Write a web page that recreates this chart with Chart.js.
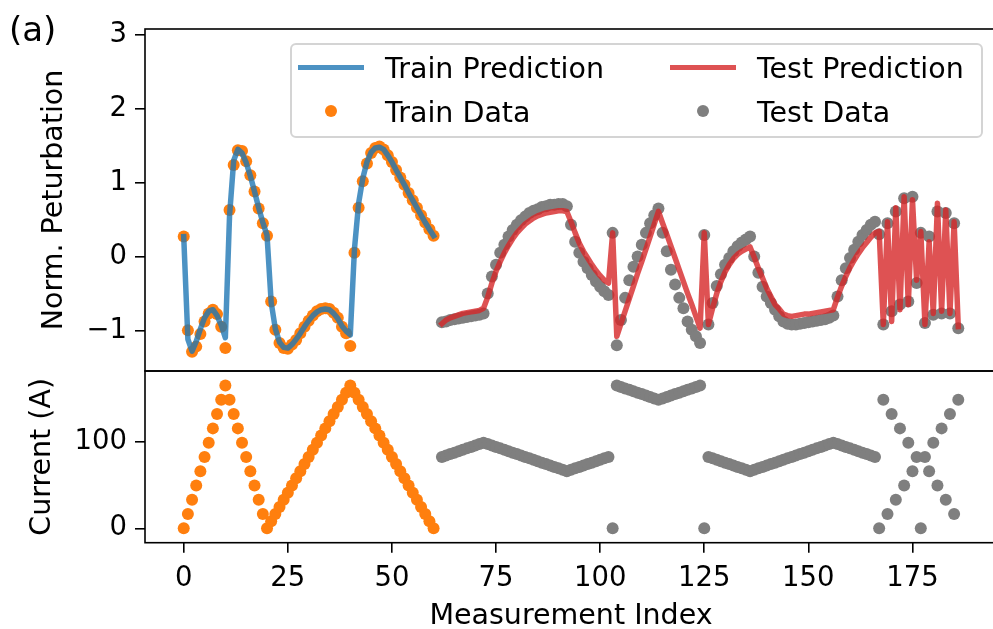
<!DOCTYPE html>
<html>
<head>
<meta charset="utf-8">
<script src="https://cdn.jsdelivr.net/npm/chart.js@4.4.1/dist/chart.umd.min.js"></script>
<style>
  html, body { margin: 0; padding: 0; background: #fff; overflow: hidden; }
  #wrap { position: relative; width: 993px; height: 629px; overflow: hidden; background: #fff;
          font-family: "DejaVu Sans", sans-serif; color: #000; }
  #wrap canvas { position: absolute; left: 0; top: 0; }
  .txt { position: absolute; white-space: nowrap; line-height: 1; }
  #panel { left: 9px; top: 12px; font-size: 34px; }
  #legend { position: absolute; left: 290px; top: 43px; width: 693px; height: 95px; box-sizing: border-box;
            border: 2px solid #d4d4d4; border-radius: 6px; background: rgba(255,255,255,0.8); }
  .lg-line { position: absolute; height: 5px; }
  .lg-dot { position: absolute; width: 12px; height: 12px; border-radius: 50%; }
  .lg-text { position: absolute; font-size: 28.5px; line-height: 1; white-space: nowrap; }
</style>
</head>
<body>
<div id="wrap">
  <canvas id="bottomChart" width="1010" height="629" style="width:1010px;height:629px"></canvas>
  <canvas id="topChart" width="1010" height="373" style="width:1010px;height:373px"></canvas>
  <div id="panel" class="txt">(a)</div>
  <div id="legend"></div>
</div>
<script>
// ---- tick positions ----
const xTicks = [0, 25, 50, 75, 100, 125, 150, 175];
const pertTicks = [-1, 0, 1, 2, 3];
const currentTicks = [0, 100];

// ---- measurement indices ----
const trainStart = 0, trainCount = 61;
const testStart = 62, testCount = 125;
const trainIndex = Array.from({ length: trainCount }, (_, i) => trainStart + i);
const testIndex = Array.from({ length: testCount }, (_, i) => testStart + i);

// ---- training set ----
const trainPert = [
  0.27, -1.00, -1.29, -1.22, -1.05, -0.88, -0.77, -0.72, -0.78, -0.95, -1.24,
  0.63, 1.24, 1.44, 1.43, 1.29, 1.10, 0.88, 0.65, 0.45, 0.28,
  -0.61, -0.99, -1.17, -1.24, -1.25, -1.19, -1.13, -1.04, -0.95, -0.87,
  -0.80, -0.74, -0.71, -0.70, -0.71, -0.76, -0.83, -0.95, -1.04, -1.21,
  0.05, 0.66, 1.02, 1.26, 1.40, 1.47, 1.49, 1.45, 1.37, 1.28,
  1.17, 1.07, 0.97, 0.86, 0.76, 0.66, 0.56, 0.46, 0.37, 0.28
];
const trainPred = [
  0.27, -1.12, -1.28, -1.15, -0.98, -0.83, -0.74, -0.72, -0.80, -0.93, -1.10,
  0.55, 1.30, 1.45, 1.40, 1.27, 1.09, 0.88, 0.66, 0.46, 0.29,
  -0.62, -0.98, -1.16, -1.23, -1.24, -1.19, -1.12, -1.04, -0.95, -0.87,
  -0.80, -0.75, -0.72, -0.71, -0.72, -0.77, -0.84, -0.94, -1.01, -1.06,
  0.10, 0.72, 1.06, 1.28, 1.41, 1.47, 1.48, 1.45, 1.37, 1.28,
  1.17, 1.07, 0.97, 0.86, 0.76, 0.66, 0.56, 0.46, 0.37, 0.28
];
const trainCurrent = [
  0, 16.5, 33, 49.5, 66, 82.5, 99, 115.5, 132, 148.5, 165,
  148.5, 132, 115.5, 99, 82.5, 66, 49.5, 33, 16.5, 0,
  8.25, 16.5, 24.75, 33, 41.25, 49.5, 57.75, 66, 74.25, 82.5,
  90.75, 99, 107.25, 115.5, 123.75, 132, 140.25, 148.5, 156.75, 165,
  156.75, 148.5, 140.25, 132, 123.75, 115.5, 107.25, 99, 90.75, 82.5,
  74.25, 66, 57.75, 49.5, 41.25, 33, 24.75, 16.5, 8.25, 0
];

// ---- test set ----
const testPert = [
  -0.89, -0.88, -0.86, -0.85, -0.84, -0.83, -0.82, -0.81, -0.80, -0.79, -0.77,
  -0.50, -0.27, -0.11, 0.05, 0.16, 0.27, 0.36, 0.43, 0.49, 0.54,
  0.59, 0.62, 0.64, 0.67, 0.68, 0.70, 0.70, 0.71, 0.71, 0.68,
  0.43, 0.20, 0.05, -0.07, -0.16, -0.25, -0.34, -0.41, -0.47, -0.52,
  0.32,
  -1.20, -0.86, -0.56, -0.32, -0.14, 0.00, 0.16, 0.32, 0.45, 0.56, 0.65,
  0.32, 0.07, -0.18, -0.38, -0.56, -0.70, -0.88, -0.99, -1.08, -1.17,
  0.29,
  -0.92, -0.63, -0.40, -0.24, -0.11, -0.02, 0.07, 0.14, 0.19, 0.23, 0.27,
  0.00, -0.22, -0.41, -0.54, -0.63, -0.72, -0.81, -0.88, -0.91, -0.92,
  -0.92, -0.91, -0.90, -0.89, -0.88, -0.87, -0.86, -0.85, -0.83, -0.80,
  -0.54, -0.32, -0.16, -0.02, 0.09, 0.20, 0.29, 0.36, 0.43, 0.47,
  0.30, -0.92, 0.45, -0.74, 0.61, -0.65, 0.79, -0.61, 0.81, -0.36,
  0.32, -0.90, 0.27, -0.79, 0.61, -0.77, 0.59, -0.77, 0.45, -0.97
];
const testPred = [
  -0.91, -0.86, -0.83, -0.81, -0.79, -0.77, -0.76, -0.75, -0.74, -0.73, -0.70,
  -0.55, -0.36, -0.20, -0.07, 0.05, 0.15, 0.24, 0.32, 0.38, 0.44,
  0.48, 0.52, 0.55, 0.57, 0.59, 0.60, 0.61, 0.62, 0.62, 0.61,
  0.47, 0.32, 0.18, 0.07, -0.02, -0.11, -0.19, -0.26, -0.32, -0.36,
  0.32,
  -1.08, -0.91, -0.74, -0.57, -0.40, -0.23, -0.07, 0.10, 0.27, 0.44, 0.61,
  0.45, 0.30, 0.14, -0.02, -0.18, -0.34, -0.50, -0.65, -0.81, -0.97,
  0.32,
  -0.92, -0.70, -0.50, -0.34, -0.21, -0.11, -0.03, 0.03, 0.07, 0.10, 0.13,
  -0.01, -0.16, -0.29, -0.43, -0.54, -0.65, -0.71, -0.78, -0.80, -0.81,
  -0.80, -0.79, -0.78, -0.78, -0.77, -0.76, -0.75, -0.74, -0.73, -0.72,
  -0.55, -0.40, -0.27, -0.15, -0.05, 0.04, 0.12, 0.19, 0.26, 0.32,
  0.34, -0.92, 0.47, -0.88, 0.66, -0.72, 0.81, -0.65, 0.77, -0.32,
  0.34, -0.92, 0.20, -0.77, 0.72, -0.74, 0.63, -0.77, 0.47, -0.95
];
const testCurrent = [
  82.5, 84.15, 85.8, 87.45, 89.1, 90.75, 92.4, 94.05, 95.7, 97.35, 99,
  97.35, 95.7, 94.05, 92.4, 90.75, 89.1, 87.45, 85.8, 84.15, 82.5,
  80.85, 79.2, 77.55, 75.9, 74.25, 72.6, 70.95, 69.3, 67.65, 66,
  67.65, 69.3, 70.95, 72.6, 74.25, 75.9, 77.55, 79.2, 80.85, 82.5,
  0,
  165, 163.35, 161.7, 160.05, 158.4, 156.75, 155.1, 153.45, 151.8, 150.15, 148.5,
  150.15, 151.8, 153.45, 155.1, 156.75, 158.4, 160.05, 161.7, 163.35, 165,
  0,
  82.5, 80.85, 79.2, 77.55, 75.9, 74.25, 72.6, 70.95, 69.3, 67.65, 66,
  67.65, 69.3, 70.95, 72.6, 74.25, 75.9, 77.55, 79.2, 80.85, 82.5,
  84.15, 85.8, 87.45, 89.1, 90.75, 92.4, 94.05, 95.7, 97.35, 99,
  97.35, 95.7, 94.05, 92.4, 90.75, 89.1, 87.45, 85.8, 84.15, 82.5,
  0, 148.5, 16.5, 132, 33, 115.5, 49.5, 99, 66, 82.5,
  0, 82.5, 66, 99, 49.5, 115.5, 33, 132, 16.5, 148.5
];

// ---- styling ----
const FONT = '"DejaVu Sans", sans-serif';
const C_TRAIN_LINE = 'rgba(31,119,180,0.8)';
const C_TRAIN_DOT = '#ff7f0e';
const C_TEST_LINE = 'rgba(214,39,40,0.8)';
const C_TEST_DOT = '#7f7f7f';
const R_TRAIN = 6, R_TEST = 6;
const LINE_W = 5.5;
const AXIS_W = 1.6;
const LEFT_W = 145;   // width reserved for the y axes
const X_MIN = -9.3, X_MAX = 195.3;

const pts = (xs, ys) => xs.map((x, i) => ({ x, y: ys[i] }));
const minus = v => String(v).replace('-', '\u2212');

const frame = {
  id: 'frame',
  afterDatasetsDraw(chart) {
    const { ctx, chartArea: a } = chart;
    ctx.save();
    ctx.strokeStyle = '#000';
    ctx.lineWidth = AXIS_W;
    ctx.strokeRect(a.left, a.top, a.right - a.left, a.bottom - a.top);
    ctx.restore();
  }
};

function yAxis(min, max, ticks, title, titlePad) {
  return {
    type: 'linear', min, max,
    afterBuildTicks: s => { s.ticks = ticks.map(v => ({ value: v })); },
    afterFit: s => { s.width = LEFT_W; s.paddingTop = 0; s.paddingBottom = 0; },
    ticks: { color: '#000', font: { family: FONT, size: 27.5 }, padding: 8, callback: minus },
    grid: { drawOnChartArea: false, drawTicks: true, tickLength: 10, color: '#000', lineWidth: AXIS_W },
    border: { display: false },
    title: { display: true, text: title, color: '#000', font: { family: FONT, size: 28.5 },
             padding: { top: titlePad, bottom: 0 } }
  };
}

Chart.defaults.animation = false;

// current panel (bottom, carries the shared x axis)
new Chart(document.getElementById('bottomChart'), {
  type: 'scatter',
  data: {
    datasets: [
      { label: 'Test Data', data: pts(testIndex, testCurrent), backgroundColor: C_TEST_DOT,
        borderWidth: 0, pointRadius: R_TEST, order: 1 },
      { label: 'Train Data', data: pts(trainIndex, trainCurrent), backgroundColor: C_TRAIN_DOT,
        borderWidth: 0, pointRadius: R_TRAIN, order: 2 }
    ]
  },
  options: {
    responsive: false, animation: false, events: [],
    layout: { autoPadding: false, padding: { top: 371, left: 0, right: 13, bottom: 0 } },
    plugins: { legend: { display: false }, tooltip: { enabled: false } },
    scales: {
      x: {
        type: 'linear', min: X_MIN, max: X_MAX,
        afterBuildTicks: s => { s.ticks = xTicks.map(v => ({ value: v })); },
        afterFit: s => { s.height = 86.3; s.paddingLeft = 0; s.paddingRight = 0; },
        ticks: { color: '#000', font: { family: FONT, size: 27.5 }, padding: 10,
                 maxRotation: 0, minRotation: 0, autoSkip: false },
        grid: { drawOnChartArea: false, drawTicks: true, tickLength: 10, color: '#000', lineWidth: AXIS_W },
        border: { display: false },
        title: { display: true, text: 'Measurement Index', color: '#000',
                 font: { family: FONT, size: 28.5, lineHeight: 0.9 }, padding: { top: 0, bottom: 0 } }
      },
      y: yAxis(-16.6, 181.8, currentTicks, 'Current (A)', 25)
    }
  },
  plugins: [frame]
});

// perturbation panel (top)
new Chart(document.getElementById('topChart'), {
  type: 'scatter',
  data: {
    datasets: [
      { label: 'Test Prediction', data: pts(testIndex, testPred), showLine: true, pointRadius: 0,
        borderColor: C_TEST_LINE, borderWidth: LINE_W, borderJoinStyle: 'round', borderCapStyle: 'square', order: 1 },
      { label: 'Test Data', data: pts(testIndex, testPert), backgroundColor: C_TEST_DOT,
        borderWidth: 0, pointRadius: R_TEST, order: 2 },
      { label: 'Train Prediction', data: pts(trainIndex, trainPred), showLine: true, pointRadius: 0,
        borderColor: C_TRAIN_LINE, borderWidth: LINE_W, borderJoinStyle: 'round', borderCapStyle: 'square', order: 3 },
      { label: 'Train Data', data: pts(trainIndex, trainPert), backgroundColor: C_TRAIN_DOT,
        borderWidth: 0, pointRadius: R_TRAIN, order: 4 }
    ]
  },
  options: {
    responsive: false, animation: false, events: [],
    layout: { autoPadding: false, padding: { top: 29, left: 0, right: 13, bottom: 2 } },
    plugins: { legend: { display: false }, tooltip: { enabled: false } },
    scales: {
      x: { type: 'linear', min: X_MIN, max: X_MAX, display: false },
      y: yAxis(-1.55, 3.08, pertTicks, 'Norm. Peturbation', 37)
    }
  },
  plugins: [frame]
});

// legend (two columns, inside the upper panel)
const legendItems = [
  { text: 'Train Prediction', kind: 'line', color: C_TRAIN_LINE, col: 0, row: 0 },
  { text: 'Test Prediction', kind: 'line', color: C_TEST_LINE, col: 1, row: 0 },
  { text: 'Train Data', kind: 'dot', color: C_TRAIN_DOT, col: 0, row: 1 },
  { text: 'Test Data', kind: 'dot', color: C_TEST_DOT, col: 1, row: 1 }
];
const lg = document.getElementById('legend');
const colX = [6, 378];     // handle left inside box
const rowY = [22, 66];     // row centre inside box
legendItems.forEach(it => {
  const cx = colX[it.col], cy = rowY[it.row];
  const h = document.createElement('div');
  if (it.kind === 'line') {
    h.className = 'lg-line';
    h.style.left = cx + 'px'; h.style.width = '66px';
    h.style.top = (cy - 2.5) + 'px';
  } else {
    h.className = 'lg-dot';
    h.style.left = (cx + 33 - 6) + 'px';
    h.style.top = (cy - 6) + 'px';
  }
  h.style.background = it.color;
  lg.appendChild(h);
  const t = document.createElement('div');
  t.className = 'lg-text';
  t.textContent = it.text;
  t.style.left = (cx + 87) + 'px';
  t.style.top = (cy - 12) + 'px';
  lg.appendChild(t);
});
</script>
</body>
</html>
